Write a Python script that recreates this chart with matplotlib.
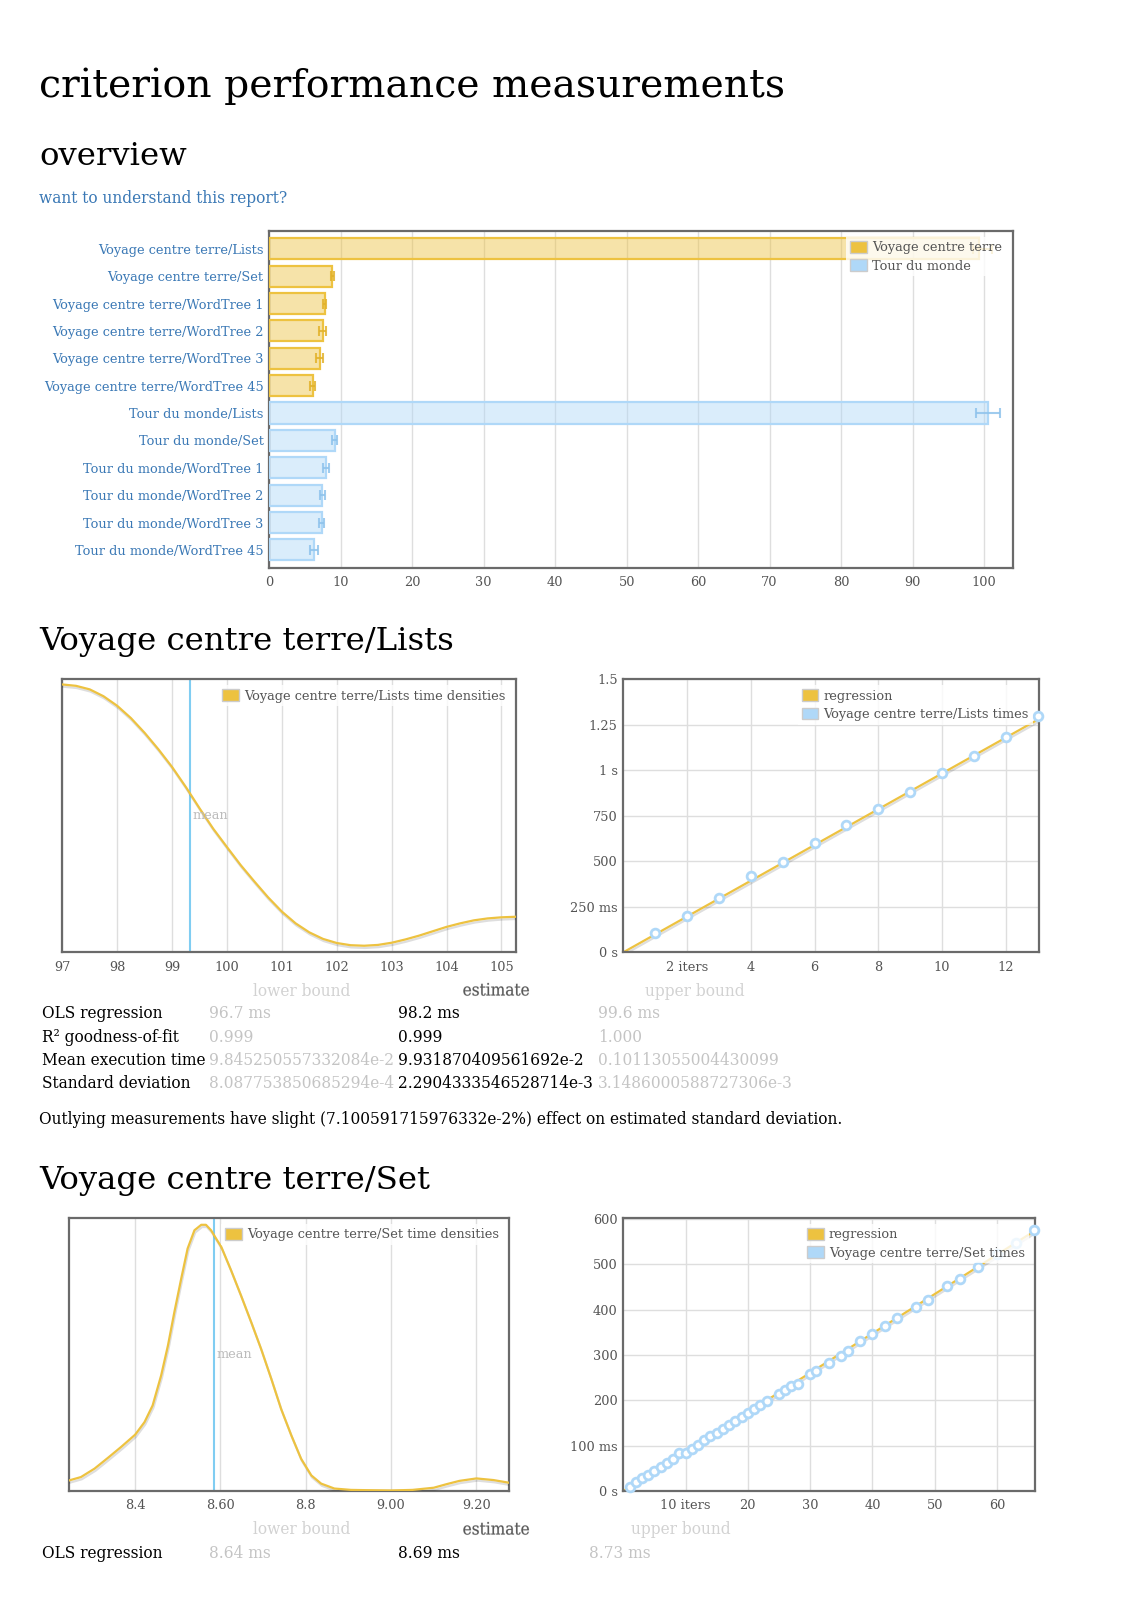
import matplotlib
matplotlib.use("Agg")
import matplotlib.pyplot as plt
import matplotlib.patheffects as pe
from matplotlib.patches import Patch
from matplotlib import font_manager as fm
import numpy as np

W, H = 1131, 1600
GOLD = "#edc240"
BLUE = "#afd8f8"
LINK = "#3a78b5"
TXT = "#545454"
GRID = "#dedede"
FRAME = "#6a6a6a"
MEANC = "#80cdf2"

plt.rcParams["font.family"] = "DejaVu Serif"

has_cond = any(f.name == "DejaVu Serif" and f.stretch == "condensed"
               for f in fm.fontManager.ttflist)
if has_cond:
    BODY = dict(fontstretch="condensed", fontsize=12.3)
else:
    BODY = dict(fontsize=11.0)

### données: vue d'ensemble (ms)
bench = ["Voyage centre terre/Lists", "Voyage centre terre/Set",
         "Voyage centre terre/WordTree 1", "Voyage centre terre/WordTree 2",
         "Voyage centre terre/WordTree 3", "Voyage centre terre/WordTree 45",
         "Tour du monde/Lists", "Tour du monde/Set",
         "Tour du monde/WordTree 1", "Tour du monde/WordTree 2",
         "Tour du monde/WordTree 3", "Tour du monde/WordTree 45"]
groups = ["Voyage centre terre", "Tour du monde"]
bench_group = [0] * 6 + [1] * 6
mean_ms = [99.3, 8.8, 7.74, 7.46, 7.09, 6.06, 100.5, 9.14, 7.88, 7.41, 7.32, 6.25]
low_ms = [98.5, 8.6, 7.46, 7.0, 6.6, 5.7, 98.9, 8.76, 7.46, 7.09, 6.9, 5.7]
high_ms = [101.1, 9.0, 8.0, 8.0, 7.55, 6.4, 102.2, 9.5, 8.4, 7.79, 7.7, 6.8]

### densité Lists (ms, densité normalisée)
dens1_x = [97.0, 97.25, 97.5, 97.75, 98.0, 98.25, 98.5, 98.75, 99.0, 99.25, 99.5,
           99.75, 100.0, 100.25, 100.5, 100.75, 101.0, 101.25, 101.5, 101.75,
           102.0, 102.25, 102.5, 102.75, 103.0, 103.25, 103.5, 103.75, 104.0,
           104.25, 104.5, 104.75, 105.0, 105.26]
dens1_y = [0.98, 0.975, 0.962, 0.937, 0.902, 0.857, 0.803, 0.743, 0.678, 0.605, 0.527,
           0.452, 0.385, 0.319, 0.259, 0.201, 0.149, 0.106, 0.073, 0.049,
           0.034, 0.026, 0.024, 0.027, 0.035, 0.047, 0.061, 0.077, 0.093,
           0.106, 0.117, 0.124, 0.128, 0.130]
mean1 = 99.32

### régression Lists
iters1 = [1, 2, 3, 4, 5, 6, 7, 8, 9, 10, 11, 12, 13]
times1 = [108, 200, 299, 418, 494, 600, 696, 789, 881, 986, 1076, 1180, 1298]
slope1 = 98.2

### densité Set
dens2_x = [8.246, 8.273, 8.305, 8.336, 8.367, 8.40, 8.422, 8.441, 8.461, 8.477,
           8.492, 8.508, 8.523, 8.539, 8.555, 8.566, 8.578, 8.590, 8.602, 8.625,
           8.648, 8.672, 8.695, 8.719, 8.742, 8.766, 8.789, 8.813, 8.836, 8.867,
           8.906, 8.945, 9.00, 9.05, 9.10, 9.13, 9.16, 9.20, 9.24, 9.277]
dens2_y = [0.039, 0.051, 0.082, 0.121, 0.161, 0.206, 0.252, 0.313, 0.423, 0.533,
           0.655, 0.777, 0.887, 0.954, 0.974, 0.974, 0.954, 0.923, 0.893, 0.807,
           0.716, 0.618, 0.521, 0.411, 0.301, 0.204, 0.118, 0.057, 0.027, 0.009,
           0.004, 0.003, 0.002, 0.004, 0.012, 0.025, 0.037, 0.046, 0.040, 0.030]
mean2 = 8.584

### régression Set
iters2 = [1, 2, 3, 4, 5, 6, 7, 8, 9, 10, 11, 12, 13, 14, 15, 16, 17, 18, 19, 20,
          21, 22, 23, 25, 26, 27, 28, 30, 31, 33, 35, 36, 38, 40, 42, 44, 47, 49,
          52, 54, 57, 60, 63, 66]
times2 = [9.6, 19.1, 27.9, 35.3, 44.9, 53.7, 62.5, 70.6, 84.6, 84.6, 93.4, 101.5,
          112.5, 121.3, 128.7, 136.8, 145.6, 154.4, 163.2, 172.8, 180.9, 189.7,
          199.3, 213.2, 222.1, 232.4, 236.0, 257.4, 265.4, 282.4, 298.5, 308.8,
          331.6, 345.6, 364.7, 380.9, 406.6, 421.3, 452.2, 467.6, 494.9, 522.0,
          546.3, 575.7]
slope2 = 8.69

### tableaux
stat_names = ["OLS regression", "R\u00b2 goodness-of-fit", "Mean execution time",
              "Standard deviation"]
lower1 = ["96.7 ms", "0.999", "9.845250557332084e-2", "8.087753850685294e-4"]
est1 = ["98.2 ms", "0.999", "9.931870409561692e-2", "2.2904333546528714e-3"]
upper1 = ["99.6 ms", "1.000", "0.10113055004430099", "3.1486000588727306e-3"]
outlier1 = ("Outlying measurements have slight (7.100591715976332e-2%) "
            "effect on estimated standard deviation.")
lower2 = ["8.64 ms"]
est2 = ["8.69 ms"]
upper2 = ["8.73 ms"]


fig = plt.figure(figsize=(W / 100, H / 100), dpi=100)
fig.patch.set_facecolor("white")


def px_axes(l, r, t, b):
    return fig.add_axes([l / W, 1 - b / H, (r - l) / W, (b - t) / H])


def ptext(x, y, s, **kw):
    return fig.text(x / W, 1 - y / H, s, **kw)


def frame(ax):
    for sp in ax.spines.values():
        sp.set_color(FRAME)
        sp.set_linewidth(1.6)
    ax.tick_params(length=0, labelsize=9.3, labelcolor=TXT)


def legend(ax, labels, colors):
    hs = [Patch(facecolor=c, edgecolor="#cccccc", linewidth=1) for c in colors]
    lg = ax.legend(hs, labels, loc="upper right", fontsize=9.3, labelcolor=TXT,
                   handlelength=1.3, handleheight=1.0, handletextpad=0.4,
                   borderpad=0.3, borderaxespad=0.5, labelspacing=0.4,
                   fancybox=False, framealpha=0.8, edgecolor="none")
    return lg


shadow = [pe.SimpleLineShadow(offset=(0.6, -1.6), shadow_color="k", alpha=0.13),
          pe.Normal()]
head_fx = [pe.withStroke(linewidth=0.6, foreground="#e0e0e0")]

### en-têtes
ptext(39, 97, "criterion performance measurements", fontsize=28.3, va="baseline")
ptext(39, 165, "overview", fontsize=23.3, va="baseline")
ptext(39, 203, "want to understand this report?", color=LINK, va="baseline", **BODY)

### vue d'ensemble
ax = px_axes(269.3, 1012.6, 230.7, 567.7)
pos = np.arange(len(bench))
fills = [(GOLD, BLUE)[g] for g in bench_group]
ax.barh(pos, mean_ms, height=0.77, color=fills, alpha=0.45, zorder=2)
ax.barh(pos, mean_ms, height=0.77, fill=False,
        edgecolor=[(GOLD, BLUE)[g] for g in bench_group], linewidth=1.6, zorder=3)
for g, ec in ((0, "#e2b22c"), (1, "#8fc3ec")):
    idx = [i for i in range(len(bench)) if bench_group[i] == g]
    m = np.array([mean_ms[i] for i in idx])
    lo = np.array([low_ms[i] for i in idx])
    hi = np.array([high_ms[i] for i in idx])
    ax.errorbar(m, pos[idx], xerr=[m - lo, hi - m], fmt="none", ecolor=ec,
                elinewidth=1.5, capsize=3.5, capthick=1.5, alpha=0.85, zorder=4)
ax.set_yticks(pos)
ax.set_yticklabels(bench)
ax.set_ylim(11.65, -0.66)
ax.set_xlim(0, 104)
ax.set_xticks(np.arange(0, 101, 10))
ax.grid(axis="x", color=GRID, linewidth=1)
ax.set_axisbelow(True)
frame(ax)
ax.tick_params(axis="y", labelcolor=LINK, pad=4)
ax.tick_params(axis="x", pad=6)
legend(ax, groups, [GOLD, BLUE])

### section Lists
ptext(39, 650, "Voyage centre terre/Lists", fontsize=23.3, va="baseline")

ax = px_axes(62.3, 515.7, 679, 952.3)
ax.plot(dens1_x, dens1_y, color=GOLD, linewidth=1.6, path_effects=shadow, zorder=3,
        solid_joinstyle="round")
ax.axvline(mean1, color=MEANC, linewidth=1.5, zorder=2)
ax.annotate("mean", (mean1, 0.5), xycoords=("data", "axes fraction"),
            xytext=(2, 0), textcoords="offset points", va="center",
            fontsize=9.3, color="#bbbbbb")
ax.set_xlim(97, 105.26)
ax.set_ylim(0, 1)
ax.set_xticks(np.arange(97, 106, 1))
ax.set_yticks([])
ax.grid(axis="x", color=GRID, linewidth=1)
frame(ax)
ax.tick_params(axis="x", pad=6)
legend(ax, ["Voyage centre terre/Lists time densities"], [GOLD])

ax = px_axes(623.3, 1039.3, 679, 952.3)
ax.plot([0, iters1[-1]], [0, slope1 * iters1[-1]], color=GOLD, linewidth=1.6,
        path_effects=shadow, zorder=2)
ax.plot(iters1, times1, "o", ms=6.3, mfc="white", mec=BLUE, mew=2.0, zorder=3,
        clip_on=False)
ax.set_xlim(0, 13.05)
ax.set_ylim(0, 1500)
ax.set_xticks(np.arange(2, 13, 2))
ax.set_xticklabels(["2 iters", "4", "6", "8", "10", "12"])
ax.set_yticks(np.arange(0, 1501, 250))
ax.set_yticklabels(["0 s", "250 ms", "500", "750", "1 s", "1.25", "1.5"])
ax.grid(color=GRID, linewidth=1)
ax.set_axisbelow(True)
frame(ax)
ax.tick_params(axis="x", pad=6)
ax.tick_params(axis="y", pad=4)
legend(ax, ["regression", "Voyage centre terre/Lists times"], [GOLD, BLUE])

# tableau Lists
HEAD_LIGHT = "#d2d2d2"
VAL_LIGHT = "#c4c4c4"
cols1 = [209, 398, 598]
heads1 = [302, 496, 695]
ptext(heads1[0], 991, "lower bound", color=HEAD_LIGHT, ha="center", va="center", **BODY)
ptext(heads1[1], 991, "estimate", color="#5a5a5a", ha="center", va="center",
      path_effects=head_fx, **BODY)
ptext(heads1[2], 991, "upper bound", color=HEAD_LIGHT, ha="center", va="center", **BODY)
rows_y = [1013.7, 1037.0, 1060.5, 1083.0]
for i, name in enumerate(stat_names):
    ptext(41.5, rows_y[i], name, color="black", va="center", **BODY)
    ptext(cols1[0], rows_y[i], lower1[i], color=VAL_LIGHT, va="center", **BODY)
    ptext(cols1[1], rows_y[i], est1[i], color="black", va="center", **BODY)
    ptext(cols1[2], rows_y[i], upper1[i], color=VAL_LIGHT, va="center", **BODY)
ptext(39, 1120, outlier1, color="black", va="center", **BODY)

### section Set
ptext(39, 1189, "Voyage centre terre/Set", fontsize=23.3, va="baseline")

ax = px_axes(69, 509.3, 1217.7, 1491)
ax.plot(dens2_x, dens2_y, color=GOLD, linewidth=1.6, path_effects=shadow, zorder=3,
        solid_joinstyle="round")
ax.axvline(mean2, color=MEANC, linewidth=1.5, zorder=2)
ax.annotate("mean", (mean2, 0.5), xycoords=("data", "axes fraction"),
            xytext=(2, 0), textcoords="offset points", va="center",
            fontsize=9.3, color="#bbbbbb")
ax.set_xlim(8.245, 9.277)
ax.set_ylim(0, 1)
ax.set_xticks([8.4, 8.6, 8.8, 9.0, 9.2])
ax.set_xticklabels(["8.4", "8.60", "8.8", "9.00", "9.20"])
ax.set_yticks([])
ax.grid(axis="x", color=GRID, linewidth=1)
frame(ax)
ax.tick_params(axis="x", pad=6)
legend(ax, ["Voyage centre terre/Set time densities"], [GOLD])

ax = px_axes(623.3, 1035, 1217.7, 1491)
ax.plot([0, iters2[-1]], [0, slope2 * iters2[-1]], color=GOLD, linewidth=1.6,
        path_effects=shadow, zorder=2)
ax.plot(iters2, times2, "o", ms=6.3, mfc="white", mec=BLUE, mew=2.0, zorder=3,
        clip_on=False)
ax.set_xlim(0, 66.1)
ax.set_ylim(0, 603)
ax.set_xticks(np.arange(10, 61, 10))
ax.set_xticklabels(["10 iters", "20", "30", "40", "50", "60"])
ax.set_yticks(np.arange(0, 601, 100))
ax.set_yticklabels(["0 s", "100 ms", "200", "300", "400", "500", "600"])
ax.grid(color=GRID, linewidth=1)
ax.set_axisbelow(True)
frame(ax)
ax.tick_params(axis="x", pad=6)
ax.tick_params(axis="y", pad=4)
legend(ax, ["regression", "Voyage centre terre/Set times"], [GOLD, BLUE])

# tableau Set
cols2 = [209, 398, 589]
heads2 = [302, 496, 681]
ptext(heads2[0], 1530, "lower bound", color=HEAD_LIGHT, ha="center", va="center", **BODY)
ptext(heads2[1], 1530, "estimate", color="#5a5a5a", ha="center", va="center",
      path_effects=head_fx, **BODY)
ptext(heads2[2], 1530, "upper bound", color=HEAD_LIGHT, ha="center", va="center", **BODY)
ptext(41.5, 1553.7, stat_names[0], color="black", va="center", **BODY)
ptext(cols2[0], 1553.7, lower2[0], color=VAL_LIGHT, va="center", **BODY)
ptext(cols2[1], 1553.7, est2[0], color="black", va="center", **BODY)
ptext(cols2[2], 1553.7, upper2[0], color=VAL_LIGHT, va="center", **BODY)

fig.savefig("out.png", dpi=100)
